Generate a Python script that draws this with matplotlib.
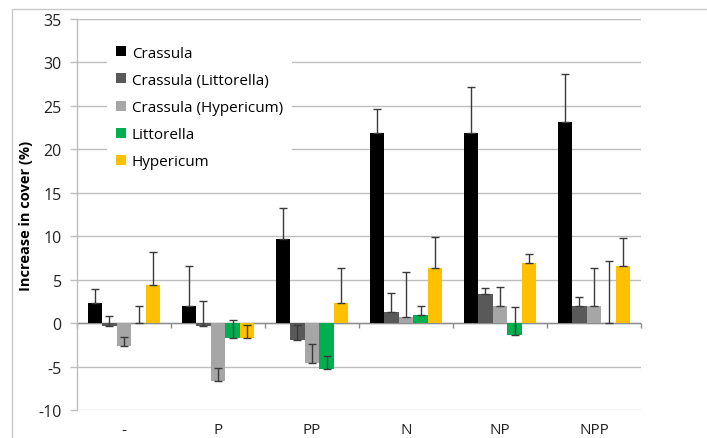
import matplotlib
matplotlib.use("Agg")
import matplotlib.pyplot as plt
import numpy as np
from matplotlib.patches import Rectangle

plt.rcParams['font.family'] = ['Open Sans', 'DejaVu Sans']

categories = ["-", "P", "PP", "N", "NP", "NPP"]
series_names = ["Crassula", "Crassula (Littorella)", "Crassula (Hypericum)", "Littorella", "Hypericum"]
crassula = [2.3, 2.0, 9.7, 21.9, 21.9, 23.2]
crassula_litt = [-0.3, -0.3, -1.9, 1.3, 3.3, 2.0]
crassula_hyp = [-2.6, -6.7, -4.6, 0.65, 2.0, 2.0]
littorella = [0.0, -1.7, -5.3, 0.95, -1.4, 0.0]
hypericum = [4.4, -1.7, 2.3, 6.3, 6.95, 6.6]

err_crassula = [1.6, 4.6, 3.5, 2.7, 5.3, 5.5]
err_crassula_litt = [1.1, 2.9, 1.7, 2.2, 0.7, 1.0]
err_crassula_hyp = [0.95, 1.55, 2.25, 5.2, 2.1, 4.35]
err_littorella = [2.0, 2.1, 1.5, 1.05, 3.3, 7.15]
err_hypericum = [3.75, 1.5, 4.05, 3.6, 1.05, 3.15]

y_ticks = [-10, -5, 0, 5, 10, 15, 20, 25, 30, 35]

values = [crassula, crassula_litt, crassula_hyp, littorella, hypericum]
errors = [err_crassula, err_crassula_litt, err_crassula_hyp, err_littorella, err_hypericum]
colors = ["#000000", "#595959", "#A6A6A6", "#00B050", "#FFC000"]

fig = plt.figure(figsize=(7.07, 4.39), dpi=100)
ax = fig.add_axes([77/707, 28/439, 564/707, 391/439])

# outer frame
fig.patches.append(Rectangle((12/707, -0.1), 1.2, (439-10)/439 + 0.1, transform=fig.transFigure,
                             fill=False, edgecolor="#C8C8C8", lw=1.0, zorder=0))

x = np.arange(len(categories))
w = 0.155
n = len(values)
bars = []
for i, (v, e, c) in enumerate(zip(values, errors, colors)):
    pos = x + (i - (n - 1) / 2) * w
    b = ax.bar(pos, v, width=w, color=c, zorder=3, label=series_names[i])
    bars.append(b)
    ax.errorbar(pos, v, yerr=[np.zeros(len(e)), e], fmt='none', ecolor="#3A3A3A",
                elinewidth=1.0, capsize=3, capthick=1.0, zorder=4)

ax.set_xlim(-0.5, len(categories) - 0.5)
ax.set_ylim(-10, 35)
ax.set_yticks(y_ticks)
ax.set_yticklabels([str(t) for t in y_ticks], fontsize=11.5, color="#222222")
ax.yaxis.grid(True, color="#BDBDBD", lw=1.0, zorder=0)
ax.set_axisbelow(True)
ax.tick_params(axis='y', length=5, width=1.0, color="#BDBDBD", pad=6)

ax.set_xticks(x)
ax.set_xticklabels(categories, fontsize=11, color="#222222")
ax.tick_params(axis='x', length=0, pad=9)

for s in ["top", "right", "bottom"]:
    ax.spines[s].set_visible(False)
ax.spines["left"].set_color("#BDBDBD")
ax.spines["left"].set_linewidth(1.0)

# zero axis with category boundary ticks
ax.axhline(0, color="#8C8C8C", lw=1.0, zorder=2)
bounds = np.arange(len(categories) + 1) - 0.5
ax.vlines(bounds, -0.6, 0, color="#8C8C8C", lw=1.0, zorder=2, clip_on=False)

ax.set_ylabel("Increase in cover (%)", fontsize=10.5, fontweight="bold")
ax.yaxis.set_label_coords(-0.078, 0.5)

leg = ax.legend(handles=bars, loc="upper left", bbox_to_anchor=(0.04, 0.975),
                fontsize=11, frameon=True, facecolor="white", edgecolor="none",
                framealpha=1.0, handlelength=0.62, handleheight=0.62, handletextpad=0.4,
                labelspacing=0.8, borderpad=0.6, fancybox=False)
leg.set_zorder(5)

fig.savefig("out.png", dpi=100)
